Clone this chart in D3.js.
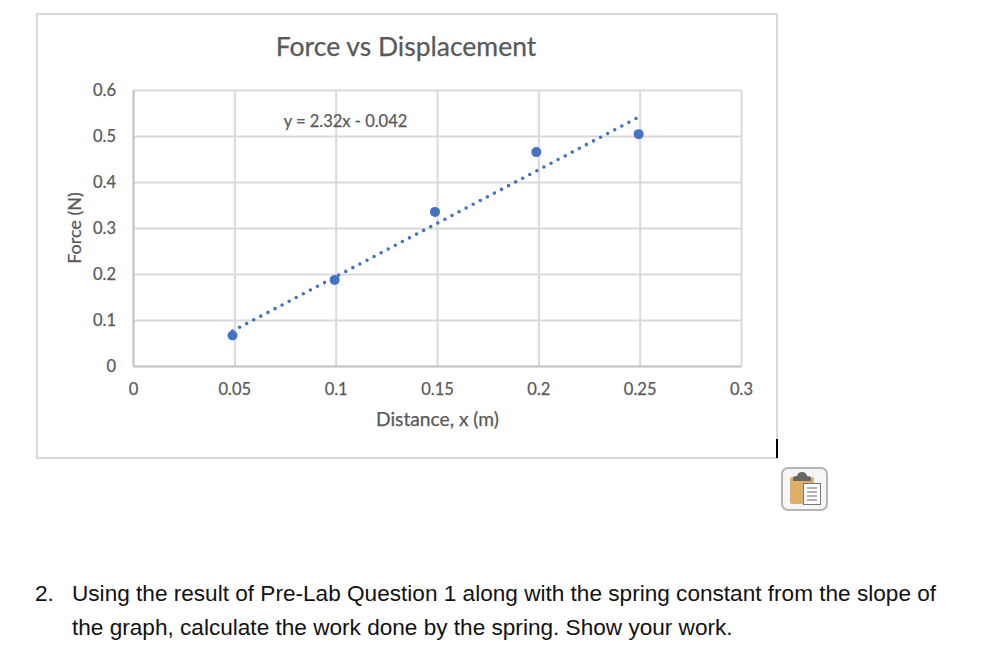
<!DOCTYPE html>
<html lang="en">
<head>
  <meta charset="UTF-8">
  <title>Force vs Displacement</title>
  <script src="https://d3js.org/d3.v7.min.js"></script>
  <style>
    body { margin: 0; background: #fff; }
    svg { display: block; }
    text { font-family: Lato, "Open Sans", sans-serif; fill: #595959; stroke: #595959; stroke-width: 0.25px; }
    .tick text { font-size: 16.5px; }
    .grid line { stroke: #d9d9d9; stroke-width: 2; }
    .grid path { display: none; }
    .question { font-family: "Liberation Sans", Arial, sans-serif; font-size: 22.6px; fill: #111; stroke: none; }
  </style>
</head>
<body>
  <svg id="chart" width="986" height="664"></svg>

  <script>
    // values
    const distance = [0.0491, 0.0995, 0.149, 0.199, 0.2495];
    const force = [0.0663, 0.187, 0.335, 0.465, 0.504];
    const trendX = [0.0491, 0.2495];
    const trendY = [0.076, 0.541];
    const xTicks = [0, 0.05, 0.1, 0.15, 0.2, 0.25, 0.3];
    const yTicks = [0, 0.1, 0.2, 0.3, 0.4, 0.5, 0.6];
    const questionLines = [
      "Using the result of Pre-Lab Question 1 along with the spring constant from the slope of",
      "the graph, calculate the work done by the spring. Show your work."
    ];

    const svg = d3.select("#chart");

    // outer chart box
    svg.append("rect")
      .attr("x", 37).attr("y", 14)
      .attr("width", 740).attr("height", 444)
      .attr("fill", "#fff")
      .attr("stroke", "#d9d9d9")
      .attr("stroke-width", 2);

    const x = d3.scaleLinear().domain([0, 0.3]).range([133, 741]);
    const y = d3.scaleLinear().domain([0, 0.6]).range([366, 90]);

    // gridlines
    svg.append("g")
      .attr("class", "grid")
      .attr("transform", "translate(0,366)")
      .call(d3.axisBottom(x).tickValues(xTicks.slice(1)).tickSize(-276).tickFormat(""));

    svg.append("g")
      .attr("class", "grid")
      .attr("transform", "translate(133,0)")
      .call(d3.axisLeft(y).tickValues(yTicks.slice(1)).tickSize(-608).tickFormat(""));

    // axis lines and labels
    const xAxis = svg.append("g")
      .attr("transform", "translate(0,366)")
      .call(d3.axisBottom(x).tickValues(xTicks).tickSize(0).tickPadding(17).tickFormat(d => String(d)));
    xAxis.select(".domain").attr("stroke", "#bfbfbf").attr("stroke-width", 2);

    const yAxis = svg.append("g")
      .attr("transform", "translate(133,0)")
      .call(d3.axisLeft(y).tickValues(yTicks).tickSize(0).tickPadding(17).tickFormat(d => String(d)));
    yAxis.select(".domain").attr("stroke", "#bfbfbf").attr("stroke-width", 2);

    svg.selectAll(".tick text").attr("fill", "#595959");

    // dotted trendline
    svg.append("path")
      .datum(trendX.map((d, i) => [d, trendY[i]]))
      .attr("fill", "none")
      .attr("stroke", "#4472c4")
      .attr("stroke-width", 3.6)
      .attr("stroke-linecap", "round")
      .attr("stroke-dasharray", "0 8")
      .attr("d", d3.line().x(d => x(d[0])).y(d => y(d[1])));

    // data points
    svg.selectAll("circle.point")
      .data(distance)
      .enter()
      .append("circle")
      .attr("class", "point")
      .attr("cx", d => x(d))
      .attr("cy", (d, i) => y(force[i]))
      .attr("r", 5)
      .attr("fill", "#4472c4");

    // titles
    svg.append("text")
      .attr("x", 406).attr("y", 56)
      .attr("text-anchor", "middle")
      .style("font-size", "26.5px")
      .text("Force vs Displacement");

    svg.append("text")
      .attr("x", 437.5).attr("y", 426)
      .attr("text-anchor", "middle")
      .style("font-size", "19.2px")
      .text("Distance, x (m)");

    svg.append("text")
      .attr("transform", "translate(81,228) rotate(-90)")
      .attr("text-anchor", "middle")
      .style("font-size", "18px")
      .text("Force (N)");

    svg.append("text")
      .attr("x", 345.5).attr("y", 127)
      .attr("text-anchor", "middle")
      .style("font-size", "16.5px")
      .text("y = 2.32x - 0.042");

    // black cursor mark at the corner of the box
    svg.append("line")
      .attr("x1", 777).attr("x2", 777)
      .attr("y1", 439).attr("y2", 458)
      .attr("stroke", "#000")
      .attr("stroke-width", 2);

    // paste icon
    const icon = svg.append("g").attr("transform", "translate(781,467)");
    icon.append("rect")
      .attr("x", 1).attr("y", 1).attr("width", 45).attr("height", 42).attr("rx", 6)
      .attr("fill", "#f6f6f6").attr("stroke", "#b5b5b5").attr("stroke-width", 2);
    icon.append("rect")
      .attr("x", 9).attr("y", 10).attr("width", 24).attr("height", 27).attr("rx", 2)
      .attr("fill", "#dfae6b");
    icon.append("path")
      .attr("d", "M12,14 L12,11 Q12,9 16,9 Q17,5 21,5 Q25,5 26,9 Q30,9 30,11 L30,14 Z")
      .attr("fill", "#666");
    icon.append("rect")
      .attr("x", 22.5).attr("y", 16.5).attr("width", 17).attr("height", 21)
      .attr("fill", "#fff").attr("stroke", "#777");
    icon.selectAll("line")
      .data([21, 25, 29, 33])
      .enter()
      .append("line")
      .attr("x1", 26).attr("x2", 36)
      .attr("y1", d => d).attr("y2", d => d)
      .attr("stroke", "#999")
      .attr("stroke-width", 1.5);

    // question text below the chart
    svg.append("text")
      .attr("class", "question")
      .attr("x", 35).attr("y", 601)
      .text("2.");

    svg.selectAll("text.line")
      .data(questionLines)
      .enter()
      .append("text")
      .attr("class", "question line")
      .attr("x", 72)
      .attr("y", (d, i) => 601 + i * 34)
      .text(d => d);
  </script>
</body>
</html>
